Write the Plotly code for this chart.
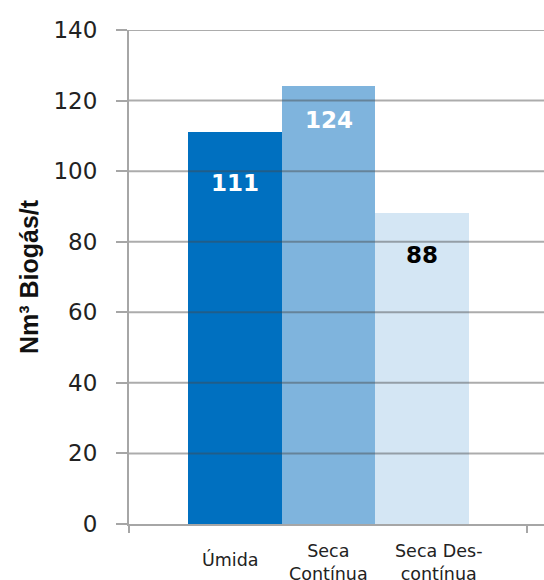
import plotly.graph_objects as go

# ---- data ----
categories = ["Úmida", "Seca<br>Contínua", "Seca Des-<br>contínua"]
values = [111, 124, 88]
y_ticks = [0, 20, 40, 60, 80, 100, 120, 140]
y_title = "Nm³ Biogás/t"

# ---- style ----
bar_colors = ["#0070C0", "#7FB4DD", "#D4E6F4"]
label_colors = ["white", "white", "black"]
label_shift = [-51, -34, -42]
cat_label_y = [-0.072, -0.077, -0.077]
cat_label_xshift = [-4, 0, 16]
grid_color = "rgba(70,70,70,0.45)"
axis_color = "#A6A6A6"

x_pos = list(range(len(categories)))

fig = go.Figure()
fig.add_trace(go.Bar(
    x=x_pos, y=values, marker=dict(color=bar_colors, line=dict(width=0)),
    width=1, showlegend=False, hoverinfo="skip",
))

# gridlines drawn above bars (as in the reference)
for t in y_ticks[1:]:
    fig.add_shape(type="line", xref="paper", yref="y", x0=0, x1=1, y0=t, y1=t,
                  line=dict(color=grid_color, width=2), layer="above")

# value labels
for xp, v, c, s in zip(x_pos, values, label_colors, label_shift):
    fig.add_annotation(x=xp, y=v, xref="x", yref="y", text=f"<b>{v}</b>",
                       showarrow=False, yanchor="middle", yshift=s,
                       font=dict(family="DejaVu Sans", size=23, color=c))

# category labels
for xp, cat, ly, xs in zip(x_pos, categories, cat_label_y, cat_label_xshift):
    fig.add_annotation(x=xp, y=ly, xref="x", yref="paper", text=cat,
                       showarrow=False, yanchor="middle", xanchor="center",
                       xshift=xs,
                       font=dict(family="DejaVu Sans", size=17.5, color="#222222"))

fig.update_layout(
    width=544, height=580,
    margin=dict(l=129, r=0, t=30, b=56),
    plot_bgcolor="white", paper_bgcolor="white",
    bargap=0,
    xaxis=dict(
        range=[-1.128, 3.298], showgrid=False, zeroline=False,
        showline=True, linecolor=axis_color, linewidth=2,
        tickmode="array", tickvals=[-1.128, 3.117], ticks="outside",
        ticklen=7, tickcolor=axis_color, tickwidth=2, showticklabels=False,
    ),
    yaxis=dict(
        range=[0, 140], tickvals=y_ticks, showgrid=False, zeroline=False,
        showline=True, linecolor=axis_color, linewidth=2,
        ticks="outside", ticklen=11, tickcolor=axis_color, tickwidth=2,
        ticklabelstandoff=14,
        tickfont=dict(family="DejaVu Sans", size=23, color="#222222"),
        title=dict(text=f"<b>{y_title}</b>", standoff=8,
                   font=dict(family="Liberation Sans", size=25, color="#111111")),
    ),
)

fig.write_html("out.html")
